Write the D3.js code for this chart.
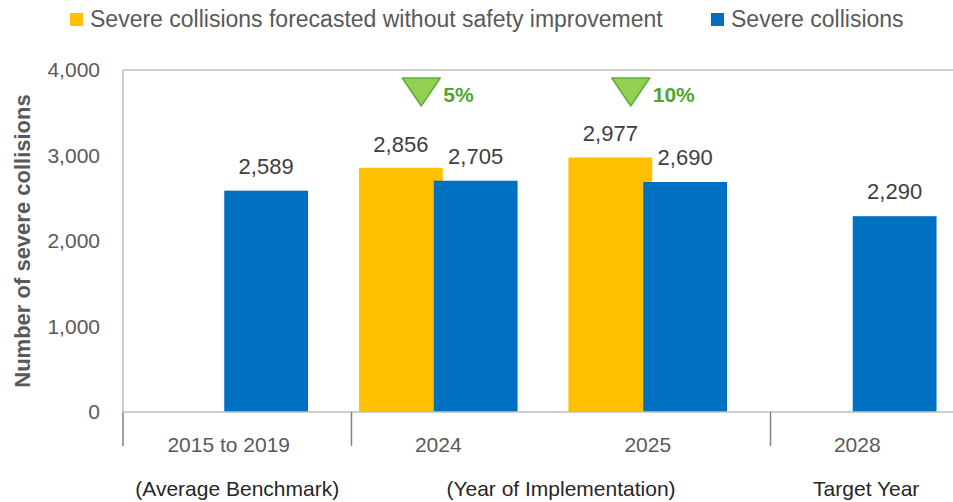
<!DOCTYPE html>
<html>
<head>
<meta charset="utf-8">
<script src="https://cdn.jsdelivr.net/npm/d3@7"></script>
<style>
  body { margin: 0; background: #fff; }
  svg { display: block; font-family: "Liberation Sans", Arial, sans-serif; }
</style>
</head>
<body>
<div id="chart"></div>
<script>
// Chart data
const categories = ["2015 to 2019", "2024", "2025", "2028"];
const forecastValues = [null, 2856, 2977, null];
const actualValues = [2589, 2705, 2690, 2290];
const reductionLabels = ["", "5%", "10%", ""];
const groupLabels = ["(Average Benchmark)", "(Year of Implementation)", "Target Year"];
const groupStarts = [0, 1, 3];   // index of first category in each group
const yTicks = [0, 1000, 2000, 3000, 4000];
const seriesNames = ["Severe collisions forecasted without safety improvement", "Severe collisions"];

const width = 953, height = 502;
const margin = {left: 124, right: -9, top: 70, bottom: 90};

const svg = d3.select("#chart")
    .append("svg")
    .attr("width", width)
    .attr("height", height);

// Scales
const xScale = d3.scaleBand()
    .domain(categories)
    .range([margin.left, width - margin.right]);

const yScale = d3.scaleLinear()
    .domain([0, 4000])
    .range([height - margin.bottom, margin.top]);

const bw = xScale.bandwidth();
const barW = bw * 0.4;
const overlap = 9;

//Top border line and left axis line
svg.append("line")
    .attr("x1", margin.left - 1).attr("x2", width)
    .attr("y1", yScale(4000)).attr("y2", yScale(4000))
    .attr("stroke", "#bfbfbf").attr("stroke-width", 1.5);

svg.append("line")
    .attr("x1", margin.left - 1).attr("x2", margin.left - 1)
    .attr("y1", yScale(4000)).attr("y2", yScale(0))
    .attr("stroke", "#bfbfbf").attr("stroke-width", 1.5);

//Y axis tick labels
svg.selectAll(".ytick")
    .data(yTicks)
    .enter().append("text")
    .attr("class", "ytick")
    .attr("x", 100)
    .attr("y", d => yScale(d))
    .attr("dy", "0.35em")
    .attr("text-anchor", "end")
    .attr("fill", "#595959")
    .style("font-size", "21px")
    .text(d => d3.format(",")(d));

//Y axis title
svg.append("text")
    .attr("transform", `translate(30,${(yScale(0) + yScale(4000)) / 2}) rotate(-90)`)
    .attr("text-anchor", "middle")
    .attr("fill", "#595959")
    .style("font-size", "22px")
    .style("font-weight", "bold")
    .text("Number of severe collisions");

//Bars - forecast series (yellow), drawn first so blue overlaps it
svg.selectAll(".forecast")
    .data(categories.filter((c, i) => forecastValues[i] != null))
    .enter().append("rect")
    .attr("class", "forecast")
    .attr("x", c => xScale(c) + bw / 2 - barW + overlap / 2)
    .attr("y", c => yScale(forecastValues[categories.indexOf(c)]))
    .attr("width", barW)
    .attr("height", c => yScale(0) - yScale(forecastValues[categories.indexOf(c)]))
    .attr("fill", "#FFC000");

svg.selectAll(".actual")
    .data(categories)
    .enter().append("rect")
    .attr("class", "actual")
    .attr("x", c => xScale(c) + bw / 2 - overlap / 2)
    .attr("y", (c, i) => yScale(actualValues[i]))
    .attr("width", barW)
    .attr("height", (c, i) => yScale(0) - yScale(actualValues[i]))
    .attr("fill", "#0070C0");

//Bottom axis line
svg.append("line")
    .attr("x1", margin.left - 1).attr("x2", width)
    .attr("y1", yScale(0)).attr("y2", yScale(0))
    .attr("stroke", "#bfbfbf").attr("stroke-width", 1.5);

//Data labels
const labelFmt = d3.format(",");
categories.forEach((c, i) => {
    if (forecastValues[i] != null) {
        svg.append("text")
            .attr("x", xScale(c) + bw / 2 - barW / 2 + overlap / 2)
            .attr("y", yScale(forecastValues[i]) - 16)
            .attr("text-anchor", "middle")
            .attr("fill", "#404040")
            .style("font-size", "22px")
            .text(labelFmt(forecastValues[i]));
    }
    svg.append("text")
        .attr("x", xScale(c) + bw / 2 + barW / 2 - overlap / 2)
        .attr("y", yScale(actualValues[i]) - 17)
        .attr("text-anchor", "middle")
        .attr("fill", "#404040")
        .style("font-size", "22px")
        .text(labelFmt(actualValues[i]));
});

//Reduction markers (green triangles with percentage)
categories.forEach((c, i) => {
    if (!reductionLabels[i]) return;
    const cx = xScale(c) + bw / 2 - 17;
    const ty = yScale(4000) + 8;
    svg.append("path")
        .attr("d", `M${cx - 19},${ty} L${cx + 19},${ty} L${cx},${ty + 28} Z`)
        .attr("fill", "#92D050")
        .attr("stroke", "#5FAE3A")
        .attr("stroke-width", 1.5)
        .attr("stroke-linejoin", "round");
    svg.append("text")
        .attr("x", cx + 22)
        .attr("y", ty + 24)
        .attr("fill", "#4EA72E")
        .style("font-size", "21px")
        .style("font-weight", "bold")
        .text(reductionLabels[i]);
});

//Category labels
svg.selectAll(".xlabel")
    .data(categories)
    .enter().append("text")
    .attr("class", "xlabel")
    .attr("x", c => xScale(c) + bw / 2)
    .attr("y", 452)
    .attr("text-anchor", "middle")
    .attr("fill", "#595959")
    .style("font-size", "21px")
    .text(c => c);

//Group separators and group labels
const groupEdges = groupStarts.map((s, i) => i == 0 ? margin.left - 1 : xScale(categories[s]) + 18);
groupEdges.push(width - margin.right);

svg.selectAll(".gtick")
    .data(groupEdges.slice(0, groupStarts.length))
    .enter().append("line")
    .attr("class", "gtick")
    .attr("x1", d => d).attr("x2", d => d)
    .attr("y1", yScale(0)).attr("y2", yScale(0) + 34)
    .attr("stroke", "#808080").attr("stroke-width", 1.5);

svg.selectAll(".glabel")
    .data(groupLabels)
    .enter().append("text")
    .attr("class", "glabel")
    .attr("x", (d, i) => (groupEdges[i] + groupEdges[i + 1]) / 2)
    .attr("y", 496)
    .attr("text-anchor", "middle")
    .attr("fill", "#262626")
    .style("font-size", "21px")
    .text(d => d);

//Legend
const legendX = [70, 711];
const legendColors = ["#FFC000", "#0070C0"];
seriesNames.forEach((name, i) => {
    svg.append("rect")
        .attr("x", legendX[i]).attr("y", 13)
        .attr("width", 13).attr("height", 13)
        .attr("fill", legendColors[i]);
    svg.append("text")
        .attr("x", legendX[i] + 20)
        .attr("y", 27)
        .attr("fill", "#595959")
        .style("font-size", "23px")
        .text(name);
});
</script>
</body>
</html>
